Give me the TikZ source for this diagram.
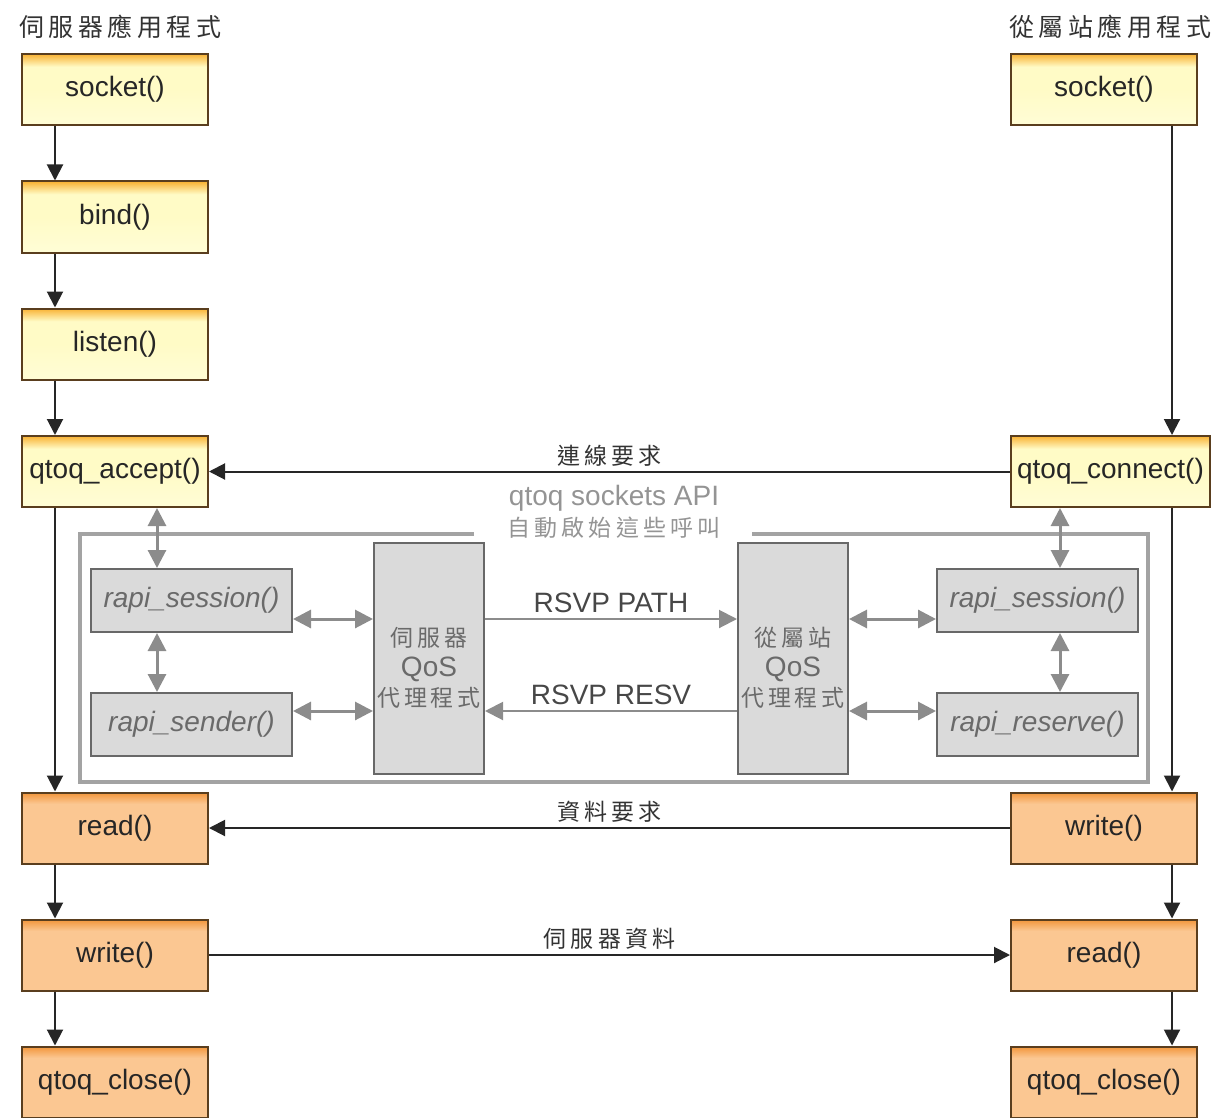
\documentclass[tikz,border=0pt]{standalone}
\usepackage{fontspec}
\setmainfont{Liberation Sans}
\newfontfamily\cjk{Noto Sans CJK TC}
\newfontfamily\cjksp[LetterSpace=18]{Noto Sans CJK TC}
\newfontfamily\cjkspb[LetterSpace=16]{Noto Sans CJK TC}
\usetikzlibrary{arrows.meta}
\definecolor{ytop}{HTML}{F9B233}
\definecolor{ypale}{HTML}{FFFBC6}
\definecolor{ybot}{HTML}{FFFDD6}
\definecolor{otop}{HTML}{F2953A}
\definecolor{obody}{HTML}{FBC792}
\definecolor{bord}{HTML}{5A3E1E}
\definecolor{gfill}{HTML}{DADADA}
\definecolor{gbord}{HTML}{686868}
\definecolor{garr}{HTML}{8C8C8C}
\definecolor{gtext}{HTML}{6A6A6A}
\definecolor{frame}{HTML}{A3A3A3}
\pgfdeclareverticalshading{yshade}{100bp}{color(0bp)=(ybot); color(25bp)=(ybot); color(50bp)=(ypale); color(66bp)=(ypale); color(75bp)=(ytop); color(100bp)=(ytop)}
\pgfdeclareverticalshading{oshade}{100bp}{color(0bp)=(obody); color(25bp)=(obody); color(67bp)=(obody); color(75bp)=(otop); color(100bp)=(otop)}
\tikzset{
  fbox/.style={draw=bord, line width=2pt, minimum width=186pt, minimum height=71pt, inner sep=0pt,
    font=\fontsize{28}{32}\selectfont, text=black!85},
  ybox/.style={fbox, shading=yshade},
  obox/.style={fbox, shading=oshade},
  gbox/.style={draw=gbord, fill=gfill, line width=2pt, minimum width=201pt, minimum height=63pt, inner sep=0pt,
    font=\fontsize{28}{32}\selectfont\itshape, text=gtext},
  qbox/.style={draw=gbord, fill=gfill, line width=2pt, minimum width=110pt, minimum height=231pt, inner sep=0pt},
  qtext/.style={yshift=-9pt, text=gtext, align=center, font=\fontsize{28}{30}\selectfont},
  arr/.style={line width=2pt, draw=black!85, -{Triangle[length=16pt,width=16pt]}},
  garrow/.style={line width=3pt, draw=garr, {Triangle[length=18pt,width=18pt]}-{Triangle[length=18pt,width=18pt]}},
  garrone/.style={line width=2pt, draw=garr, -{Triangle[length=18pt,width=18pt]}},
  lab/.style={font=\cjksp\fontsize{23}{26}\selectfont, text=black!80},
  head/.style={font=\cjksp\fontsize{25}{28}\selectfont, text=black!80},
  rsvp/.style={above=2pt, text=black!72, font=\fontsize{28}{30}\selectfont},
}
\begin{document}
\begin{tikzpicture}[x=1pt,y=-1pt]
\useasboundingbox (0,0) rectangle (1217,1118);
% headings
\node[head] (hL) at (120,27) {伺服器應用程式};
\node[head] (hR) at (1110,27) {從屬站應用程式};
% left column
\node[ybox] (s1) at (115,89.5) {socket()};
\node[ybox] (b1) at (115,217) {bind()};
\node[ybox] (l1) at (115,344) {listen()};
\node[ybox] (acc) at (115,471.5) {qtoq\_accept()};
\node[obox] (rd1) at (115,828) {read()};
\node[obox] (wr1) at (115,955) {write()};
\node[obox] (cl1) at (115,1082) {qtoq\_close()};
% right column
\node[ybox] (s2) at (1104,89.5) {socket()};
\node[ybox, minimum width=199pt] (con) at (1110.5,471.5) {qtoq\_connect()};
\node[obox] (wr2) at (1104,828) {write()};
\node[obox] (rd2) at (1104,955) {read()};
\node[obox] (cl2) at (1104,1082) {qtoq\_close()};
% frame
\draw[frame, line width=4pt] (474,534) -- (80,534) -- (80,782) -- (1148,782) -- (1148,534) -- (752,534);
\node[align=center, text=black!42, font=\fontsize{28}{31}\selectfont] (cap) at (614,512)
  {qtoq sockets API\\{\cjksp\fontsize{23}{31}\selectfont 自動啟始這些呼叫}};
% gray boxes
\node[gbox] (sesL) at (191.5,600.5) {rapi\_session()};
\node[gbox] (sndL) at (191.5,724.5) {rapi\_sender()};
\node[gbox] (sesR) at (1037.5,600.5) {rapi\_session()};
\node[gbox] (resR) at (1037.5,724.5) {rapi\_reserve()};
\node[qbox, label={[qtext, name=qSt]center:{\cjksp\fontsize{23}{30}\selectfont 伺服器}\\QoS\\{\cjkspb\fontsize{23}{30}\selectfont 代理程式}}] (qS) at (429,658.5) {};
\node[qbox, label={[qtext, name=qCt]center:{\cjksp\fontsize{23}{30}\selectfont 從屬站}\\QoS\\{\cjkspb\fontsize{23}{30}\selectfont 代理程式}}] (qC) at (793,658.5) {};
% black flow arrows left
\draw[arr] ([xshift=-60pt]s1.south) -- ([xshift=-60pt]b1.north);
\draw[arr] ([xshift=-60pt]b1.south) -- ([xshift=-60pt]l1.north);
\draw[arr] ([xshift=-60pt]l1.south) -- ([xshift=-60pt]acc.north);
\draw[arr] ([xshift=-60pt]acc.south) -- ([xshift=-60pt]rd1.north);
\draw[arr] ([xshift=-60pt]rd1.south) -- ([xshift=-60pt]wr1.north);
\draw[arr] ([xshift=-60pt]wr1.south) -- ([xshift=-60pt]cl1.north);
% right
\draw[arr] ([xshift=68pt]s2.south) -- ([xshift=68pt]s2.south |- con.north);
\draw[arr] ([xshift=68pt]s2.south |- con.south) -- ([xshift=68pt]wr2.north);
\draw[arr] ([xshift=68pt]wr2.south) -- ([xshift=68pt]rd2.north);
\draw[arr] ([xshift=68pt]rd2.south) -- ([xshift=68pt]cl2.north);
% horizontal messages
\draw[arr] (con.west) -- node[lab, above=1pt] (m1) {連線要求} (acc.east);
\draw[arr] (wr2.west) -- node[lab, above=1pt] (m2) {資料要求} (rd1.east);
\draw[arr] (wr1.east) -- node[lab, above=1pt] (m3) {伺服器資料} (rd2.west);
% gray arrows
\draw[garrow] ([xshift=42pt]acc.south) -- ([xshift=42pt]acc.south |- sesL.north);
\draw[garrow] ([xshift=-34.5pt]sesL.south) -- ([xshift=-34.5pt]sndL.north);
\draw[garrow] ([xshift=-50.5pt]con.south) -- ([xshift=-50.5pt]con.south |- sesR.north);
\draw[garrow] ([xshift=22.5pt]sesR.south) -- ([xshift=22.5pt]resR.north);
\draw[garrow] ([yshift=-18.5pt]sesL.east) -- ([yshift=-18.5pt]sesL.east -| qS.west);
\draw[garrow] ([yshift=13.5pt]sndL.east) -- ([yshift=13.5pt]sndL.east -| qS.west);
\draw[garrow] ([yshift=-18.5pt]sesR.west -| qC.east) -- ([yshift=-18.5pt]sesR.west);
\draw[garrow] ([yshift=13.5pt]resR.west -| qC.east) -- ([yshift=13.5pt]resR.west);
\draw[garrone] (qS.east |- 0,619) -- node[rsvp] (p1) {RSVP PATH} (qC.west |- 0,619);
\draw[garrone] (qC.west |- 0,711) -- node[rsvp] (p2) {RSVP RESV} (qS.east |- 0,711);
\end{tikzpicture}
\end{document}
